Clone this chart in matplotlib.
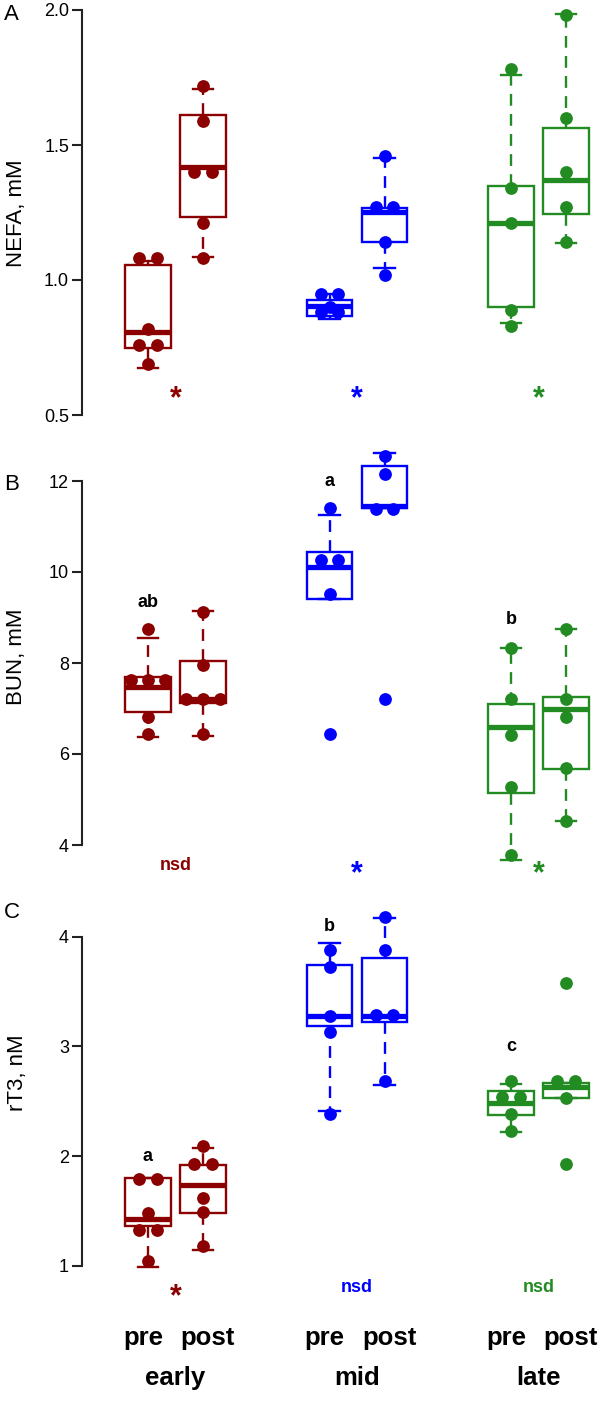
import numpy as np
import matplotlib
matplotlib.use('Agg')
import matplotlib.pyplot as plt
from matplotlib.transforms import blended_transform_factory

plt.rcParams['font.family'] = ['Liberation Sans', 'DejaVu Sans']

# ---- data ----
groups = ['early', 'mid', 'late']
times = ['pre', 'post']
colors = ['#8B0000', '#0000FF', '#228B22']

# order of boxes: early pre, early post, mid pre, mid post, late pre, late post
nefa_points = [
    [1.08, 1.08, 0.82, 0.76, 0.76, 0.69],
    [1.72, 1.59, 1.40, 1.40, 1.21, 1.08],
    [0.95, 0.95, 0.90, 0.88, 0.88],
    [1.46, 1.27, 1.27, 1.14, 1.02],
    [1.78, 1.34, 1.21, 0.89, 0.83],
    [1.98, 1.60, 1.40, 1.27, 1.14],
]
# whislo, q1, median, q3, whishi
nefa_box = [
    [0.674, 0.748, 0.809, 1.056, 1.07],
    [1.086, 1.232, 1.420, 1.611, 1.706],
    [0.855, 0.868, 0.905, 0.925, 0.95],
    [1.043, 1.142, 1.253, 1.268, 1.451],
    [0.842, 0.899, 1.212, 1.349, 1.759],
    [1.136, 1.244, 1.370, 1.564, 1.985],
]

bun_points = [
    [8.74, 7.63, 7.63, 7.63, 6.82, 6.44],
    [9.13, 7.96, 7.21, 7.21, 7.21, 6.44],
    [11.40, 10.26, 10.26, 9.52, 6.44],
    [12.55, 12.15, 11.38, 11.38, 7.21],
    [8.34, 7.21, 6.42, 5.28, 3.78],
    [8.74, 7.21, 6.81, 5.69, 4.53],
]
bun_box = [
    [6.37, 6.92, 7.48, 7.70, 8.54],
    [6.40, 7.13, 7.21, 8.04, 9.15],
    [9.40, 9.40, 10.12, 10.43, 11.25],
    [11.40, 11.40, 11.45, 12.34, 12.61],
    [3.67, 5.14, 6.60, 7.10, 8.34],
    [4.53, 5.66, 7.00, 7.26, 8.74],
]

rt3_points = [
    [1.79, 1.79, 1.48, 1.33, 1.33, 1.04],
    [2.09, 1.93, 1.93, 1.62, 1.49, 1.18],
    [3.88, 3.72, 3.28, 3.13, 2.38],
    [4.18, 3.88, 3.29, 3.29, 2.68],
    [2.68, 2.54, 2.54, 2.38, 2.23],
    [3.58, 2.68, 2.68, 2.53, 1.93],
]
rt3_box = [
    [0.99, 1.36, 1.43, 1.80, 1.80],
    [1.14, 1.48, 1.74, 1.92, 2.07],
    [2.41, 3.19, 3.28, 3.74, 3.945],
    [2.65, 3.22, 3.28, 3.81, 4.17],
    [2.22, 2.374, 2.48, 2.596, 2.66],
    [2.53, 2.53, 2.63, 2.67, 2.67],
]

# letters over "pre" boxes (box index, text, y)
bun_letters = [(0, 'ab', 9.34), (2, 'a', 11.98), (4, 'b', 8.95)]
rt3_letters = [(0, 'a', 2.0), (2, 'b', 4.09), (4, 'c', 3.0)]
# pre vs post marks under each group
nefa_marks = ['*', '*', '*']
bun_marks = ['nsd', '*', '*']
rt3_marks = ['*', 'nsd', 'nsd']

positions = [1, 2, 4.3, 5.3, 7.6, 8.6]
W, H = 600, 1422


def swarm_x(vals, x0, step=0.31):
    vals = np.asarray(vals)
    xs = np.full(len(vals), float(x0))
    for v in np.unique(vals):
        idx = np.where(vals == v)[0]
        n = len(idx)
        xs[idx] = x0 + (np.arange(n) - (n - 1) / 2) * step
    return xs


fig = plt.figure(figsize=(W / 100, H / 100), dpi=100)

panels = [
    # points, boxes, ticks, fmt, ylabel, letter, top px, bottom px, letters, marks, mark y, ylabel y, letter y
    (nefa_points, nefa_box, [0.5, 1.0, 1.5, 2.0], '%.1f', 'NEFA, mM', 'A', 10, 415,
     [], nefa_marks, 0.593, 213, 15),
    (bun_points, bun_box, [4, 6, 8, 10, 12], '%d', 'BUN, mM', 'B', 481, 845,
     bun_letters, bun_marks, 3.56, 657, 485),
    (rt3_points, rt3_box, [1, 2, 3, 4], '%d', 'rT3, nM', 'C', 936.7, 1265.7,
     rt3_letters, rt3_marks, 0.80, 1073, 913),
]

left = 81.5
for pts, boxes, ticks, fmt, ylabel, letter, top, bot, letters, marks, mark_y, ylab_y, let_y in panels:
    ax = fig.add_axes([left / W, 1 - bot / H, (W - left) / W, (bot - top) / H])
    ax.patch.set_visible(False)
    ax.set_xlim(-0.209, 9.218)
    ax.set_ylim(ticks[0], ticks[-1])

    for i, (vals, b) in enumerate(zip(pts, boxes)):
        c = colors[i // 2]
        st = dict(whislo=b[0], q1=b[1], med=b[2], q3=b[3], whishi=b[4], fliers=[])
        art = ax.bxp([st], positions=[positions[i]], widths=0.825, capwidths=0.38,
                     patch_artist=True, showfliers=False, manage_ticks=False,
                     boxprops=dict(facecolor='white', edgecolor=c, linewidth=1.7),
                     whiskerprops=dict(color=c, linewidth=1.7, linestyle=(0, (5, 3.5))),
                     capprops=dict(color=c, linewidth=1.7),
                     medianprops=dict(color=c, linewidth=3.8, solid_capstyle='butt'),
                     zorder=2)
        for parts in art.values():
            for a in parts:
                a.set_clip_on(False)
        ax.plot(swarm_x(vals, positions[i]), vals, 'o', color=c, ms=9.2,
                mec='none', zorder=3, clip_on=False)

    for i, s, y in letters:
        ax.text(positions[i], y, s, ha='center', va='center', fontsize=13,
                fontweight='bold', color='black')

    for g, s in enumerate(marks):
        xc = (positions[2 * g] + positions[2 * g + 1]) / 2
        if s == '*':
            ax.annotate(s, (xc, mark_y), xytext=(0, -7), textcoords='offset points',
                        ha='center', va='center', fontsize=22, fontweight='bold',
                        color=colors[g], annotation_clip=False)
        else:
            ax.text(xc, mark_y, s, ha='center', va='center', fontsize=13,
                    fontweight='bold', color=colors[g])

    ax.set_yticks(ticks)
    ax.set_yticklabels([fmt % t for t in ticks])
    ax.set_xticks([])
    for sp in ['top', 'right', 'bottom']:
        ax.spines[sp].set_visible(False)
    ax.spines['left'].set_linewidth(1.5)
    ax.spines['left'].set_color('#222222')
    ax.tick_params(axis='y', length=7, width=1.5, labelsize=13, pad=2, color='#222222')

    fig.text(17 / W, 1 - ylab_y / H, ylabel, rotation=90, ha='center', va='center',
             fontsize=16)
    fig.text(11.5 / W, 1 - let_y / H, letter, ha='center', va='center', fontsize=16)

# category labels under the last panel
trans = blended_transform_factory(ax.transData, fig.transFigure)
for g, name in enumerate(groups):
    for k, t in enumerate(times):
        ax.text(positions[2 * g + k] + (-0.09 if k == 0 else 0.09), 1 - 1338 / H, t,
                transform=trans, ha='center', va='center', fontsize=18.5,
                fontweight='bold')
    xc = (positions[2 * g] + positions[2 * g + 1]) / 2
    ax.text(xc, 1 - 1378 / H, name, transform=trans, ha='center', va='center',
            fontsize=18.5, fontweight='bold')

fig.savefig('out.png', dpi=100)
